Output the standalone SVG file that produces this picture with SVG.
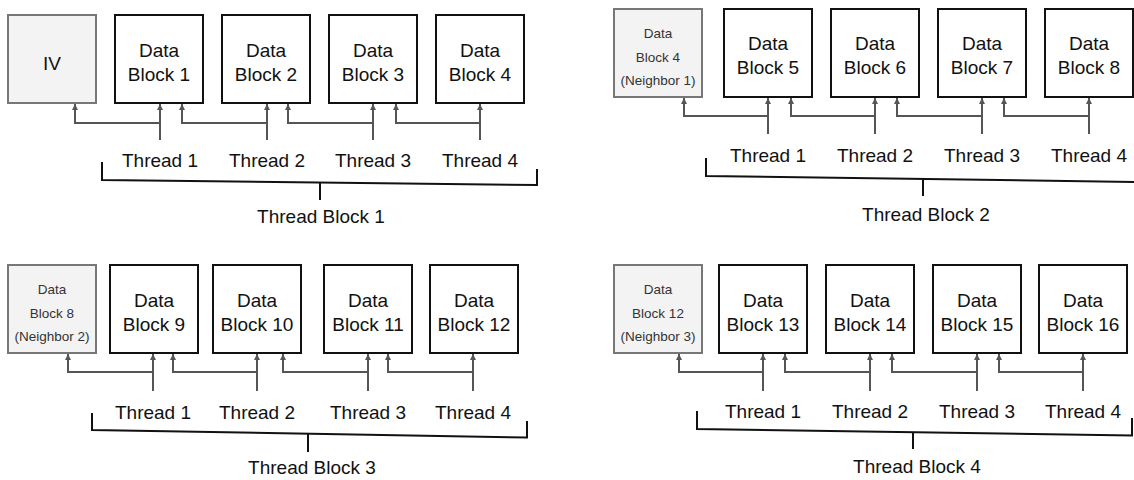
<svg xmlns="http://www.w3.org/2000/svg" width="1134" height="480" viewBox="0 0 1134 480">
  <style>
    text { font-family: "Liberation Sans", Arial, sans-serif; fill: #111; text-anchor: middle; }
    .lbl { font-size: 19px; }
    .small { font-size: 13.5px; fill: #333; }
    .blk { fill: #fff; stroke: #111; stroke-width: 2; }
    .nbr { fill: #f3f3f3; stroke: #777; stroke-width: 2; }
    .wire { fill: none; stroke: #555; stroke-width: 2; marker-end: url(#up); }
    .brace { fill: none; stroke: #111; stroke-width: 2; }
  </style>
  <defs>
    <marker id="up" viewBox="0 0 10 10" refX="10" refY="5" markerWidth="7" markerHeight="6" markerUnits="userSpaceOnUse" orient="auto">
      <path d="M0,0 L10,5 L0,10 z" fill="#555"/>
    </marker>
  </defs>

  <!-- ===== Thread Block 1 ===== -->
  <g id="iv"><rect class="nbr" x="8" y="15" width="88" height="88"/><text class="lbl" x="52" y="70">IV</text></g>
  <g id="db1"><rect class="blk" x="115" y="15" width="88" height="88"/><text class="lbl" x="159" y="57">Data</text><text class="lbl" x="159" y="81">Block 1</text></g>
  <g id="db2"><rect class="blk" x="222" y="15" width="88" height="88"/><text class="lbl" x="266" y="57">Data</text><text class="lbl" x="266" y="81">Block 2</text></g>
  <g id="db3"><rect class="blk" x="329" y="15" width="88" height="88"/><text class="lbl" x="373" y="57">Data</text><text class="lbl" x="373" y="81">Block 3</text></g>
  <g id="db4"><rect class="blk" x="436" y="15" width="88" height="88"/><text class="lbl" x="480" y="57">Data</text><text class="lbl" x="480" y="81">Block 4</text></g>
  <g id="tb1-threads">
    <text class="lbl" x="160" y="167">Thread 1</text>
    <text class="lbl" x="267" y="167">Thread 2</text>
    <text class="lbl" x="373" y="167">Thread 3</text>
    <text class="lbl" x="480" y="167">Thread 4</text>
    <text class="lbl" x="321" y="223">Thread Block 1</text>
  </g>

  <!-- ===== Thread Block 2 ===== -->
  <g id="nb1"><rect class="nbr" x="614" y="9" width="88" height="88"/><text class="small" x="658" y="38">Data</text><text class="small" x="658" y="62">Block 4</text><text class="small" x="658" y="85">(Neighbor 1)</text></g>
  <g id="db5"><rect class="blk" x="724" y="9" width="88" height="88"/><text class="lbl" x="768" y="50">Data</text><text class="lbl" x="768" y="74">Block 5</text></g>
  <g id="db6"><rect class="blk" x="831" y="9" width="88" height="88"/><text class="lbl" x="875" y="50">Data</text><text class="lbl" x="875" y="74">Block 6</text></g>
  <g id="db7"><rect class="blk" x="938" y="9" width="88" height="88"/><text class="lbl" x="982" y="50">Data</text><text class="lbl" x="982" y="74">Block 7</text></g>
  <g id="db8"><rect class="blk" x="1045" y="9" width="88" height="88"/><text class="lbl" x="1089" y="50">Data</text><text class="lbl" x="1089" y="74">Block 8</text></g>
  <g id="tb2-threads">
    <text class="lbl" x="768" y="162">Thread 1</text>
    <text class="lbl" x="875" y="162">Thread 2</text>
    <text class="lbl" x="982" y="162">Thread 3</text>
    <text class="lbl" x="1089" y="162">Thread 4</text>
    <text class="lbl" x="926" y="221">Thread Block 2</text>
  </g>

  <!-- ===== Thread Block 3 ===== -->
  <g id="nb2"><rect class="nbr" x="8" y="265" width="88" height="88"/><text class="small" x="52" y="294">Data</text><text class="small" x="52" y="318">Block 8</text><text class="small" x="52" y="341">(Neighbor 2)</text></g>
  <g id="db9"><rect class="blk" x="110" y="265" width="88" height="88"/><text class="lbl" x="154" y="307">Data</text><text class="lbl" x="154" y="331">Block 9</text></g>
  <g id="db10"><rect class="blk" x="213" y="265" width="88" height="88"/><text class="lbl" x="257" y="307">Data</text><text class="lbl" x="257" y="331">Block 10</text></g>
  <g id="db11"><rect class="blk" x="324" y="265" width="88" height="88"/><text class="lbl" x="368" y="307">Data</text><text class="lbl" x="368" y="331">Block 11</text></g>
  <g id="db12"><rect class="blk" x="430" y="265" width="88" height="88"/><text class="lbl" x="474" y="307">Data</text><text class="lbl" x="474" y="331">Block 12</text></g>
  <g id="tb3-threads">
    <text class="lbl" x="153" y="419">Thread 1</text>
    <text class="lbl" x="257" y="419">Thread 2</text>
    <text class="lbl" x="368" y="419">Thread 3</text>
    <text class="lbl" x="473" y="419">Thread 4</text>
    <text class="lbl" x="312" y="474">Thread Block 3</text>
  </g>

  <!-- ===== Thread Block 4 ===== -->
  <g id="nb3"><rect class="nbr" x="614" y="265" width="88" height="88"/><text class="small" x="658" y="294">Data</text><text class="small" x="658" y="318">Block 12</text><text class="small" x="658" y="341">(Neighbor 3)</text></g>
  <g id="db13"><rect class="blk" x="719" y="265" width="88" height="88"/><text class="lbl" x="763" y="307">Data</text><text class="lbl" x="763" y="331">Block 13</text></g>
  <g id="db14"><rect class="blk" x="826" y="265" width="88" height="88"/><text class="lbl" x="870" y="307">Data</text><text class="lbl" x="870" y="331">Block 14</text></g>
  <g id="db15"><rect class="blk" x="933" y="265" width="88" height="88"/><text class="lbl" x="977" y="307">Data</text><text class="lbl" x="977" y="331">Block 15</text></g>
  <g id="db16"><rect class="blk" x="1039" y="265" width="88" height="88"/><text class="lbl" x="1083" y="307">Data</text><text class="lbl" x="1083" y="331">Block 16</text></g>
  <g id="tb4-threads">
    <text class="lbl" x="763" y="418">Thread 1</text>
    <text class="lbl" x="870" y="418">Thread 2</text>
    <text class="lbl" x="977" y="418">Thread 3</text>
    <text class="lbl" x="1083" y="418">Thread 4</text>
    <text class="lbl" x="917" y="473">Thread Block 4</text>
  </g>

  <!-- connectors: each thread reads its own block and the previous one -->
  <g id="connectors">
    <path class="wire" d="M160,140 V104"/><path class="wire" d="M160,123 H75 V104"/>
    <path class="wire" d="M267,140 V104"/><path class="wire" d="M267,123 H182 V104"/>
    <path class="wire" d="M373,140 V104"/><path class="wire" d="M373,123 H288 V104"/>
    <path class="wire" d="M480,140 V104"/><path class="wire" d="M480,123 H396 V104"/>

    <path class="wire" d="M768,134 V98"/><path class="wire" d="M768,116 H684 V98"/>
    <path class="wire" d="M875,134 V98"/><path class="wire" d="M875,116 H791 V98"/>
    <path class="wire" d="M982,134 V98"/><path class="wire" d="M982,116 H897 V98"/>
    <path class="wire" d="M1089,134 V98"/><path class="wire" d="M1089,116 H1004 V98"/>

    <path class="wire" d="M153,391 V354"/><path class="wire" d="M153,372 H68 V354"/>
    <path class="wire" d="M257,391 V354"/><path class="wire" d="M257,372 H173 V354"/>
    <path class="wire" d="M368,391 V354"/><path class="wire" d="M368,372 H283 V354"/>
    <path class="wire" d="M473,391 V354"/><path class="wire" d="M473,372 H388 V354"/>

    <path class="wire" d="M763,391 V354"/><path class="wire" d="M763,372 H679 V354"/>
    <path class="wire" d="M870,391 V354"/><path class="wire" d="M870,372 H785 V354"/>
    <path class="wire" d="M977,391 V354"/><path class="wire" d="M977,372 H892 V354"/>
    <path class="wire" d="M1083,391 V354"/><path class="wire" d="M1083,372 H999 V354"/>

    <!-- thread-block braces -->
    <path class="brace" d="M102,162 V180 L537,185 V169"/><path class="brace" d="M320,182.5 V200"/>
    <path class="brace" d="M706,158 V176 L1141,182"/><path class="brace" d="M923,179 V196"/>
    <path class="brace" d="M92,413 V430 L527,437.5 V421"/><path class="brace" d="M308,434 V452"/>
    <path class="brace" d="M697,411 V429 L1132,435.5 V418"/><path class="brace" d="M913,432.5 V449"/>
  </g>
</svg>
